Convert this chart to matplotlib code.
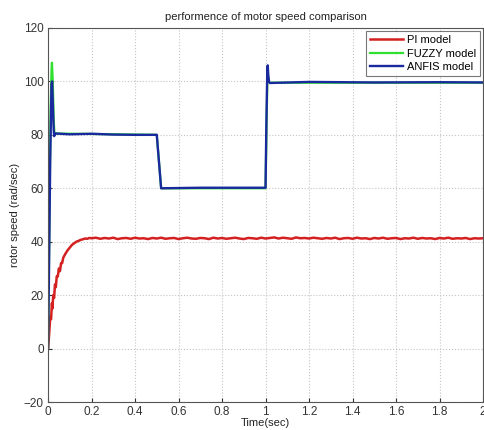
import matplotlib
matplotlib.use("Agg")
import matplotlib.pyplot as plt

plt.rcParams['font.family'] = ['Liberation Sans', 'DejaVu Sans']

title = "performence of motor speed comparison"
xlabel = "Time(sec)"
ylabel = "rotor speed (rad/sec)"
series_names = ["PI model", "FUZZY model", "ANFIS model"]
colors = ["#d42020", "#30e030", "#1a2a9e"]

x_ticks = [0, 0.2, 0.4, 0.6, 0.8, 1.0, 1.2, 1.4, 1.6, 1.8, 2.0]
x_tick_labels = ["0", "0.2", "0.4", "0.6", "0.8", "1", "1.2", "1.4", "1.6", "1.8", "2"]
y_ticks = [-20, 0, 20, 40, 60, 80, 100, 120]

# PI model: rise
pi_rise_t = [0, 0.004, 0.008, 0.010, 0.014, 0.018, 0.020, 0.024, 0.028, 0.032, 0.036,
             0.040, 0.045, 0.050, 0.055, 0.060, 0.065, 0.070, 0.080, 0.090, 0.100,
             0.110, 0.120, 0.130, 0.140, 0.150, 0.160, 0.170, 0.180, 0.190]
pi_rise_v = [0, 4, 9, 12, 11, 17, 15, 20, 19, 24, 23,
             27, 27, 30, 29, 32, 32, 34, 35.5, 36.8, 37.8,
             38.8, 39.4, 40.0, 40.3, 40.7, 40.9, 41.2, 41.1, 41.4]
# PI model: steady ripple, one value every 0.02 s from 0.20 to 2.00
pi_steady_v = [41.3, 41.5, 41.1, 41.4, 41.2, 41.5, 41.0, 41.3, 41.4, 41.1,
               41.5, 41.2, 41.3, 41.0, 41.4, 41.2, 41.5, 41.1, 41.3, 41.4,
               41.0, 41.3, 41.5, 41.2, 41.1, 41.4, 41.3, 41.0, 41.5, 41.2,
               41.4, 41.1, 41.3, 41.5, 41.2, 41.0, 41.4, 41.3, 41.1, 41.5,
               41.2, 41.4, 41.6, 41.2, 41.5, 41.3, 41.1, 41.6, 41.3, 41.4,
               41.2, 41.5, 41.3, 41.1, 41.4, 41.2, 41.5, 41.0, 41.3, 41.4,
               41.1, 41.5, 41.2, 41.3, 41.0, 41.4, 41.2, 41.5, 41.1, 41.3,
               41.4, 41.0, 41.3, 41.2, 41.5, 41.1, 41.4, 41.2, 41.3, 41.0,
               41.4, 41.2, 41.5, 41.1, 41.3, 41.2, 41.4, 41.0, 41.3, 41.2,
               41.3]
pi_steady_t = [0.20 + 0.02 * i for i in range(len(pi_steady_v))]
pi_t = pi_rise_t + pi_steady_t
pi_v = pi_rise_v + pi_steady_v

# FUZZY model
fz_t = [0, 0.004, 0.012, 0.016, 0.018, 0.022, 0.026, 0.030, 0.035, 0.5, 0.52, 1.0,
        1.004, 1.009, 1.014, 1.02, 2.0]
fz_v = [0, 30, 90, 104, 107, 100, 86, 80, 80.5, 80, 60, 60,
        80, 104, 100, 99.5, 99.5]

# ANFIS model
an_t = [0, 0.004, 0.010, 0.016, 0.019, 0.022, 0.026, 0.028, 0.035, 0.1, 0.2, 0.3,
        0.4, 0.5, 0.52, 0.7, 1.0, 1.004, 1.008, 1.010, 1.013, 1.016, 1.02, 1.2,
        1.5, 1.8, 2.0]
an_v = [0, 25, 70, 99, 100, 92, 82, 79.5, 80.5, 80.2, 80.4, 80.1,
        80.0, 80.0, 60, 60.2, 60.2, 85, 104, 106, 102, 100, 99.4, 99.8,
        99.6, 99.7, 99.6]

fig = plt.figure(figsize=(4.85, 4.30), dpi=100)
ax = fig.add_axes([0.099, 0.065, 0.897, 0.87])

ax.plot(pi_t, pi_v, color=colors[0], lw=1.8, label=series_names[0])
ax.plot(fz_t, fz_v, color=colors[1], lw=1.6, label=series_names[1])
ax.plot(an_t, an_v, color=colors[2], lw=1.7, label=series_names[2])

ax.set_xlim(0, 2)
ax.set_ylim(-20, 120)
ax.set_xticks(x_ticks)
ax.set_xticklabels(x_tick_labels)
ax.set_yticks(y_ticks)
ax.tick_params(direction='in', labelsize=8.5, length=3, pad=3, colors='#333333')
ax.grid(True, linestyle=':', color='#c4c4c4', linewidth=0.8)
for s in ax.spines.values():
    s.set_color('#555555')
    s.set_linewidth(0.8)

ax.set_title(title, fontsize=8, pad=6, color='#222222')
ax.set_xlabel(xlabel, fontsize=8, labelpad=0, color='#222222')
ax.set_ylabel(ylabel, fontsize=8, labelpad=3, color='#222222')

leg = ax.legend(loc='upper right', fontsize=8, frameon=True, fancybox=False,
                borderaxespad=0.3, handlelength=3.0, labelspacing=0.3,
                borderpad=0.35, handletextpad=0.3)
leg.get_frame().set_edgecolor('#555555')
leg.get_frame().set_linewidth(0.8)

fig.savefig("out.png", dpi=100)
